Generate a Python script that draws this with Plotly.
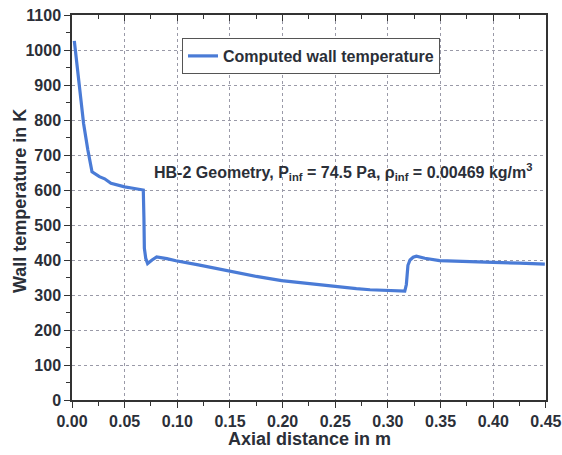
import plotly.graph_objects as go

# Axial distance (m) and computed wall temperature (K)
x_pos = [0.0022, 0.0045, 0.0076, 0.011, 0.015, 0.019, 0.026, 0.031, 0.037, 0.043,
         0.050, 0.058, 0.0665, 0.0677, 0.0683, 0.0687, 0.0700, 0.0718, 0.0760, 0.0804,
         0.0900, 0.0987, 0.120, 0.150, 0.175, 0.199, 0.225, 0.2497, 0.270, 0.283,
         0.300, 0.316, 0.3175, 0.319, 0.321, 0.324, 0.327, 0.335, 0.349, 0.370,
         0.400, 0.425, 0.449]
temp_K = [1026, 960, 866, 790, 715, 652, 638, 632, 619, 614,
          609, 605, 602, 600, 520, 434, 405, 390, 400, 409,
          404, 398, 386, 367, 353, 341, 332, 324, 318, 315,
          313, 311, 330, 385, 400, 408, 411, 405, 398, 395,
          393, 391, 388]

x_ticks = [0.00, 0.05, 0.10, 0.15, 0.20, 0.25, 0.30, 0.35, 0.40, 0.45]
x_labels = ["0.00", "0.05", "0.10", "0.15", "0.20", "0.25", "0.30", "0.35", "0.40", "0.45"]
y_ticks = list(range(0, 1101, 100))

series_name = "Computed wall temperature"
x_title = "Axial distance in m"
y_title = "Wall temperature in K"
note = "HB-2 Geometry, P<sub>inf</sub> = 74.5 Pa, \u03c1<sub>inf</sub> = 0.00469 kg/m<sup>3</sup>"

FONT = "Liberation Sans, Arial, sans-serif"
TXT = "#2b2f38"
LINE = "#4a7bd6"

fig = go.Figure()
fig.add_trace(go.Scatter(x=x_pos, y=temp_K, mode="lines", name=series_name,
                         line=dict(color=LINE, width=3.2)))
fig.add_trace(go.Scatter(x=x_pos, y=temp_K, mode="lines", xaxis="x2", showlegend=False,
                         line=dict(color="rgba(0,0,0,0)", width=0), hoverinfo="skip"))

fig.update_layout(
    width=562, height=455,
    margin=dict(l=72, r=16, t=15, b=55),
    paper_bgcolor="white", plot_bgcolor="white",
    font=dict(family=FONT, color=TXT),
    showlegend=True,
    legend=dict(x=(182 - 72) / 474, y=(400 - 38) / 385, xanchor="left", yanchor="top",
                bordercolor="#555", borderwidth=1, bgcolor="white",
                font=dict(family=FONT, size=16, color=TXT, weight="bold"),
                itemwidth=30, tracegroupgap=0),
    xaxis=dict(range=[0, 0.4501], tickvals=x_ticks, ticktext=x_labels, automargin=False,
               showline=True, linecolor="#333", linewidth=1.5, mirror=True,
               ticks="outside", ticklen=6, tickcolor="#333",
               minor=dict(dtick=0.025, ticks="outside", ticklen=4, tickcolor="#333",
                          showgrid=False),
               showgrid=True, gridcolor="#9a9aa8", griddash="dot", gridwidth=1,
               zeroline=False,
               tickfont=dict(family=FONT, size=16, color=TXT, weight="bold")),
    xaxis2=dict(range=[0, 0.4501], overlaying="x", side="top", matches="x",
                tickvals=x_ticks, showticklabels=False,
                ticks="inside", ticklen=6, tickcolor="#333",
                minor=dict(dtick=0.025, ticks="inside", ticklen=4, tickcolor="#333"),
                showgrid=False, zeroline=False, showline=False),
    yaxis=dict(range=[0, 1100], tickvals=y_ticks, automargin=False,
               showline=True, linecolor="#333", linewidth=1.5, mirror=True,
               ticks="outside", ticklen=6, tickcolor="#333",
               minor=dict(dtick=50, ticks="outside", ticklen=4, tickcolor="#333",
                          showgrid=False),
               showgrid=True, gridcolor="#9a9aa8", griddash="dot", gridwidth=1,
               zeroline=False,
               tickfont=dict(family=FONT, size=16, color=TXT, weight="bold")),
    annotations=[
        dict(text=note, xref="paper", yref="paper",
             x=(152 - 72) / 474, y=(400 - 172) / 385,
             xanchor="left", yanchor="middle", showarrow=False,
             font=dict(family=FONT, size=16, color=TXT, weight="bold")),
        dict(text=x_title, xref="paper", yref="paper", x=0.5, y=(400 - 439) / 385,
             xanchor="center", yanchor="middle", showarrow=False,
             font=dict(family=FONT, size=18, color=TXT, weight="bold")),
        dict(text=y_title, xref="paper", yref="paper", x=(20 - 72) / 474,
             y=(400 - 201) / 385, textangle=-90,
             xanchor="center", yanchor="middle", showarrow=False,
             font=dict(family=FONT, size=18, color=TXT, weight="bold")),
    ],
)

fig.write_html("out.html")
